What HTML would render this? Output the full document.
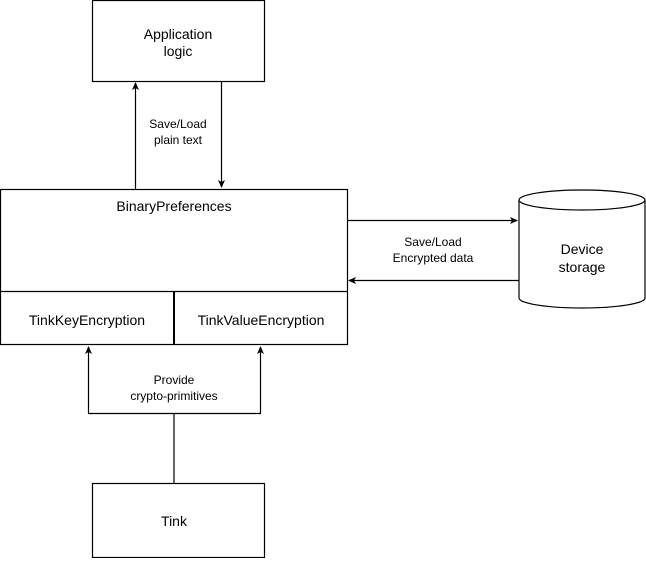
<!DOCTYPE html>
<html><head><style>body{margin:0;background:#fff}</style></head><body>
<svg width="646" height="558" xmlns="http://www.w3.org/2000/svg" font-family="Liberation Sans, Helvetica, sans-serif" font-size="14">
<defs><marker id="a" markerWidth="8" markerHeight="8" refX="7" refY="4" orient="auto" markerUnits="userSpaceOnUse"><path d="M0,0.5 L8,4 L0,7.5 L2,4 Z" fill="#000"/></marker></defs>
<g fill="none" stroke="#000" stroke-width="1.2">
<rect x="92.5" y="0.5" width="172" height="81"/>
<rect x="0.5" y="189.5" width="347" height="155"/>
<line x1="0" y1="291.5" x2="347" y2="291.5"/>
<line x1="174" y1="291" x2="174" y2="344" stroke-width="2"/>
<rect x="92.5" y="483.5" width="172" height="74"/>
<path d="M519,200 L519,298 A63,10 0 0 0 645,298 L645,200"/>
<ellipse cx="582" cy="200" rx="63" ry="10" fill="#fff"/>
<line x1="135.5" y1="189" x2="135.5" y2="83" marker-end="url(#a)"/>
<line x1="221.5" y1="82" x2="221.5" y2="187" marker-end="url(#a)"/>
<line x1="347" y1="220.5" x2="517" y2="220.5" marker-end="url(#a)"/>
<line x1="519" y1="280.5" x2="349" y2="280.5" marker-end="url(#a)"/>
<path d="M88.5,413.5 L88.5,347" marker-end="url(#a)"/>
<path d="M260.5,413.5 L260.5,347" marker-end="url(#a)"/>
<line x1="88" y1="413.5" x2="261" y2="413.5"/>
<line x1="174" y1="413" x2="174" y2="483"/>
</g>
<g text-anchor="middle" fill="#000">
<text x="178" y="39">Application</text><text x="178" y="56">logic</text>
<text x="178" y="128" font-size="12">Save/Load</text><text x="178" y="144" font-size="12">plain text</text>
<text x="174" y="211">BinaryPreferences</text>
<text x="87" y="325">TinkKeyEncryption</text>
<text x="261" y="325">TinkValueEncryption</text>
<text x="433" y="246" font-size="12">Save/Load</text><text x="433" y="262" font-size="12">Encrypted data</text>
<text x="582" y="254">Device</text><text x="582" y="272">storage</text>
<text x="174" y="384" font-size="12">Provide</text><text x="174" y="400" font-size="12">crypto-primitives</text>
<text x="174" y="526">Tink</text>
</g>
</svg>
</body></html>
